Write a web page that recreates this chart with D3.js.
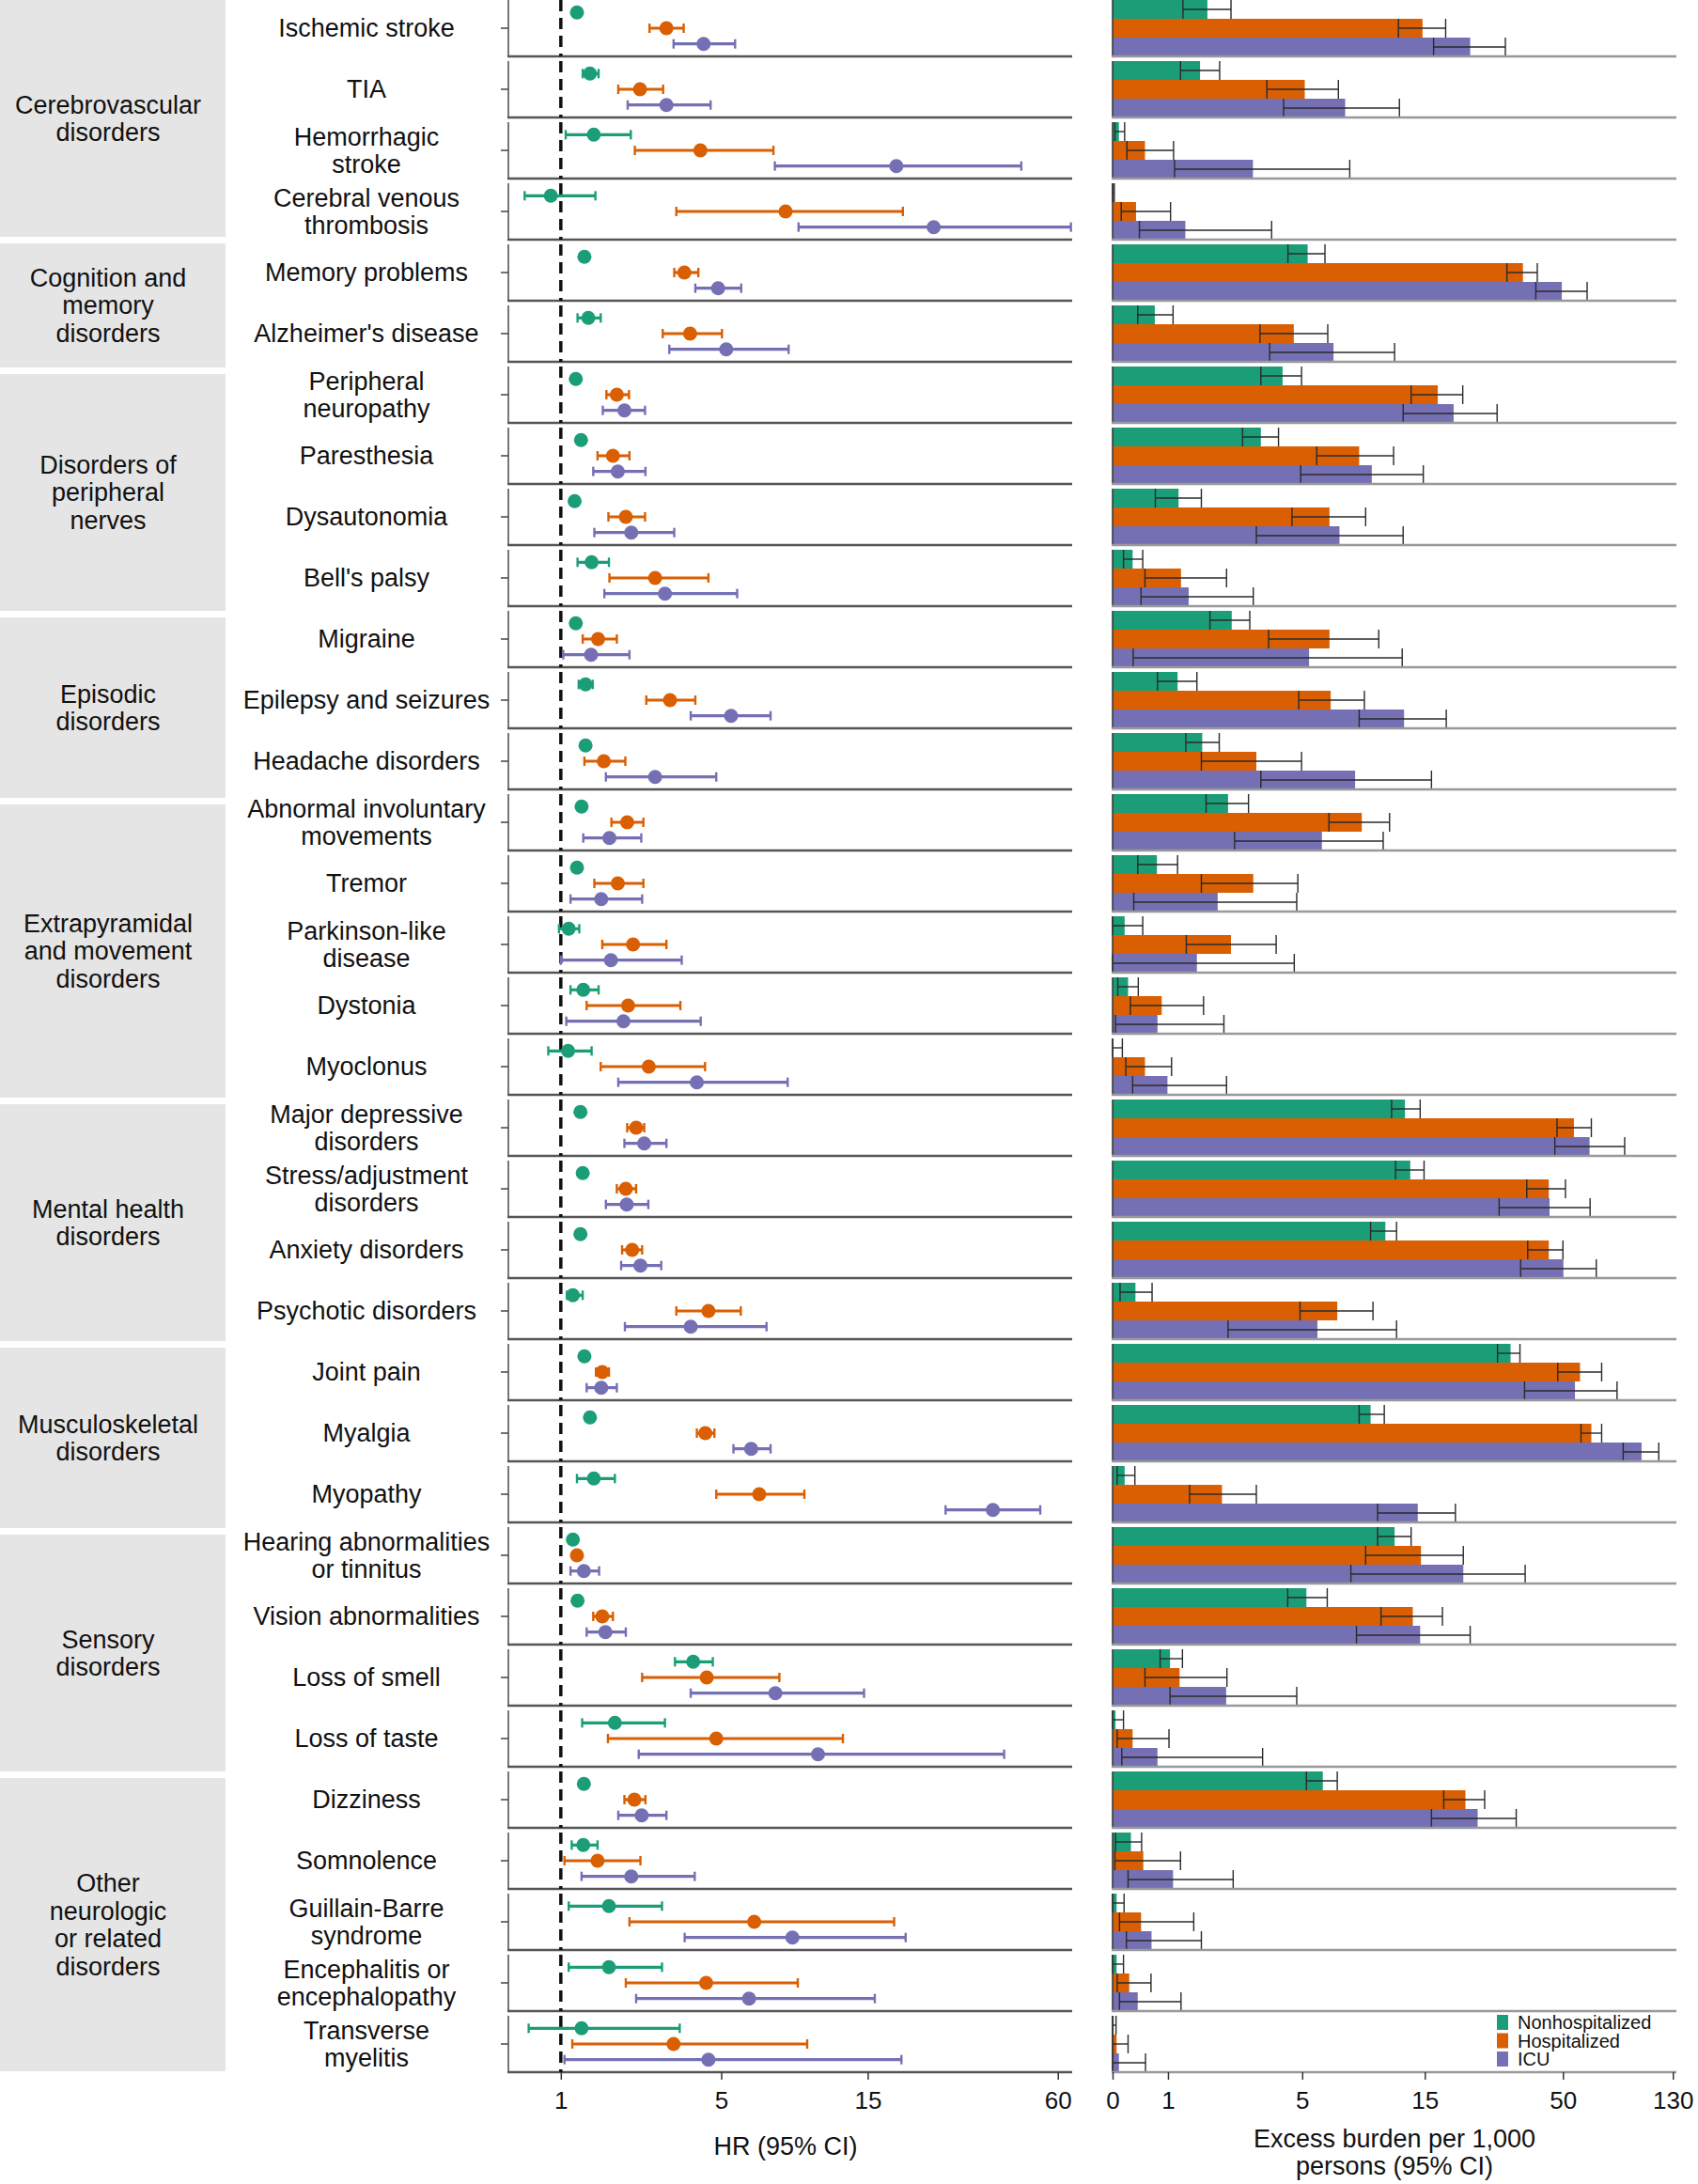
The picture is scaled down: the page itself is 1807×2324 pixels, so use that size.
<!DOCTYPE html>
<html>
<head>
<meta charset="utf-8">
<script src="https://cdn.jsdelivr.net/npm/d3@7"></script>
<style>
  body { margin: 0; background: #fff; }
  svg { display: block; font-family: "Liberation Sans", Arial, sans-serif; }
</style>
</head>
<body>
<svg id="chart" width="1807" height="2324"></svg>
<script>
// conditions, top to bottom ("|" = line break)
const conditions = [
  'Ischemic stroke', 'TIA', 'Hemorrhagic|stroke', 'Cerebral venous|thrombosis',
  'Memory problems', "Alzheimer's disease",
  'Peripheral|neuropathy', 'Paresthesia', 'Dysautonomia', "Bell's palsy",
  'Migraine', 'Epilepsy and seizures', 'Headache disorders',
  'Abnormal involuntary|movements', 'Tremor', 'Parkinson-like|disease', 'Dystonia', 'Myoclonus',
  'Major depressive|disorders', 'Stress/adjustment|disorders', 'Anxiety disorders', 'Psychotic disorders',
  'Joint pain', 'Myalgia', 'Myopathy',
  'Hearing abnormalities|or tinnitus', 'Vision abnormalities', 'Loss of smell', 'Loss of taste',
  'Dizziness', 'Somnolence', 'Guillain-Barre|syndrome', 'Encephalitis or|encephalopathy', 'Transverse|myelitis'
]

const groups = [
  'Cerebrovascular|disorders', 'Cognition and|memory|disorders', 'Disorders of|peripheral|nerves',
  'Episodic|disorders', 'Extrapyramidal|and movement|disorders', 'Mental health|disorders',
  'Musculoskeletal|disorders', 'Sensory|disorders', 'Other|neurologic|or related|disorders'
]
const groupSizes = [4, 2, 4, 3, 5, 4, 3, 4, 5]

const cohorts = ['Nonhospitalized', 'Hospitalized', 'ICU']
const colors = ['#1b9e77', '#d95f02', '#7570b3']

// hazard ratios [estimate, lower, upper]
const hrNonhosp = [
  [1.27, 1.22, 1.32], [1.50, 1.37, 1.66], [1.57, 1.08, 2.32], [0.84, 0.44, 1.60],
  [1.40, 1.34, 1.46], [1.47, 1.28, 1.70],
  [1.25, 1.20, 1.30], [1.34, 1.29, 1.39], [1.23, 1.17, 1.29], [1.53, 1.28, 1.86],
  [1.25, 1.20, 1.30], [1.42, 1.30, 1.55], [1.42, 1.36, 1.48],
  [1.35, 1.30, 1.40], [1.27, 1.20, 1.34], [1.13, 0.97, 1.31], [1.38, 1.16, 1.66], [1.12, 0.80, 1.53],
  [1.33, 1.29, 1.37], [1.37, 1.33, 1.41], [1.33, 1.29, 1.37], [1.20, 1.10, 1.37],
  [1.40, 1.36, 1.44], [1.50, 1.45, 1.55], [1.57, 1.27, 1.98],
  [1.20, 1.16, 1.24], [1.28, 1.24, 1.32], [4.00, 3.44, 4.68], [1.98, 1.36, 3.16],
  [1.39, 1.35, 1.43], [1.38, 1.18, 1.64], [1.86, 1.13, 3.08], [1.86, 1.13, 3.08], [1.35, 0.50, 3.58]
]
const hrHosp = [
  [3.20, 2.76, 3.70], [2.53, 2.05, 3.11], [4.24, 2.41, 7.46], [8.17, 3.48, 19.4],
  [3.72, 3.42, 4.17], [3.90, 3.10, 5.03],
  [2.02, 1.81, 2.28], [1.94, 1.64, 2.29], [2.21, 1.85, 2.65], [2.90, 1.87, 4.52],
  [1.65, 1.37, 2.02], [3.30, 2.68, 4.07], [1.76, 1.40, 2.20],
  [2.24, 1.91, 2.61], [2.04, 1.58, 2.61], [2.37, 1.73, 3.20], [2.26, 1.44, 3.60], [2.74, 1.70, 4.40],
  [2.44, 2.24, 2.63], [2.21, 2.02, 2.44], [2.35, 2.13, 2.58], [4.52, 3.48, 5.82],
  [1.73, 1.61, 1.86], [4.41, 4.12, 4.74], [6.70, 4.81, 9.40],
  [1.27, 1.21, 1.33], [1.73, 1.56, 1.94], [4.46, 2.58, 7.80], [4.81, 1.84, 12.5],
  [2.40, 2.18, 2.66], [1.64, 1.06, 2.54], [6.45, 2.29, 18.2], [4.44, 2.21, 8.95], [3.40, 1.19, 9.60]
]
const hrIcu = [
  [4.35, 3.40, 5.57], [3.20, 2.25, 4.60], [18.5, 7.54, 46.0], [24.3, 9.0, 66.0],
  [4.88, 4.07, 5.84], [5.20, 3.28, 8.36],
  [2.18, 1.74, 2.65], [2.04, 1.56, 2.66], [2.33, 1.58, 3.42], [3.16, 1.77, 5.66],
  [1.52, 1.04, 2.29], [5.40, 3.92, 7.30], [2.90, 1.80, 4.81],
  [1.87, 1.38, 2.56], [1.71, 1.16, 2.58], [1.90, 1.00, 3.64], [2.16, 1.09, 4.25], [4.12, 2.05, 8.30],
  [2.63, 2.18, 3.20], [2.23, 1.80, 2.73], [2.54, 2.11, 3.06], [3.92, 2.19, 7.08],
  [1.71, 1.44, 2.02], [6.30, 5.50, 7.30], [37.4, 26.5, 52.8],
  [1.39, 1.16, 1.67], [1.79, 1.44, 2.21], [7.57, 3.92, 14.6], [10.4, 2.50, 40.6],
  [2.57, 2.05, 3.20], [2.33, 1.35, 4.05], [8.60, 3.73, 19.8], [6.20, 2.44, 15.8], [4.52, 1.06, 19.2]
]

// excess burden per 1,000 persons [estimate, lower, upper]
const burdenNonhosp = [
  [1.84, 1.30, 2.44], [1.67, 1.25, 2.14], [0.11, 0.04, 0.21], [0.01, 0, 0.03],
  [5.26, 4.37, 6.17], [0.75, 0.44, 1.10],
  [4.15, 3.35, 4.97], [3.35, 2.77, 3.99], [1.21, 0.76, 1.70], [0.35, 0.19, 0.53],
  [2.46, 1.90, 2.99], [1.19, 0.80, 1.60], [1.72, 1.36, 2.13],
  [2.36, 1.81, 2.95], [0.79, 0.44, 1.19], [0.21, 0, 0.53], [0.27, 0.09, 0.45], [0.01, 0, 0.17],
  [12.6, 11.2, 14.4], [13.2, 11.6, 14.9], [10.6, 9.3, 11.7], [0.40, 0.13, 0.70],
  [31.7, 28.3, 34.4], [9.3, 8.4, 10.5], [0.21, 0.08, 0.39],
  [11.5, 9.9, 13.3], [5.2, 4.36, 6.3], [1.04, 0.85, 1.29], [0.05, 0, 0.19],
  [6.05, 5.2, 6.9], [0.32, 0.05, 0.51], [0.07, 0, 0.20], [0.07, 0, 0.19], [0.02, 0, 0.06]
]
const burdenHosp = [
  [14.7, 11.9, 18.0], [5.12, 3.56, 6.97], [0.57, 0.25, 1.11], [0.41, 0.15, 1.05],
  [35.3, 30.7, 40.0], [4.62, 3.32, 6.33],
  [16.8, 13.3, 20.9], [8.4, 5.72, 11.4], [6.43, 4.54, 8.9], [1.26, 0.57, 2.32],
  [6.43, 3.62, 10.0], [6.5, 4.84, 8.8], [3.2, 1.70, 4.97],
  [8.6, 6.4, 11.0], [3.1, 1.70, 4.8], [2.44, 1.37, 3.9], [0.88, 0.31, 1.75], [0.57, 0.23, 1.07],
  [55, 47.5, 64], [44.2, 36.5, 51.1], [44.2, 36.8, 50.0], [6.9, 4.9, 9.5],
  [58, 47.8, 70], [64, 58.5, 70], [2.2, 1.44, 3.2],
  [14.5, 8.9, 21.0], [13.5, 10.2, 17.5], [1.23, 0.57, 2.33], [0.35, 0.08, 1.02],
  [21.4, 17.7, 25.3], [0.54, 0.04, 1.25], [0.50, 0.12, 1.53], [0.29, 0.08, 0.68], [0.07, 0, 0.27]
]
const burdenIcu = [
  [22.3, 16.2, 30.3], [7.41, 4.19, 12.0], [3.09, 1.13, 7.72], [1.35, 0.47, 3.73],
  [49.5, 39.5, 61.7], [6.67, 3.66, 11.5],
  [19.3, 12.4, 28.2], [9.4, 4.93, 14.8], [7.04, 3.20, 12.4], [1.42, 0.50, 3.1],
  [5.33, 0.36, 12.3], [12.5, 8.4, 18.1], [8.1, 3.35, 15.9],
  [6.0, 2.54, 10.4], [2.09, 0.37, 4.75], [1.6, 0, 4.64], [0.80, 0.05, 2.25], [0.99, 0.35, 2.32],
  [63, 46.6, 85.5], [44.5, 28.7, 63.3], [50.2, 34.6, 66.8], [5.76, 2.36, 11.7],
  [55.5, 35.8, 80], [99, 84.4, 115], [14.1, 9.9, 19.6],
  [21, 7.8, 36], [14.4, 8.2, 22.3], [2.31, 1.04, 4.75], [0.80, 0.16, 3.41],
  [23.8, 15.9, 33.3], [1.10, 0.27, 2.5], [0.69, 0.24, 1.70], [0.44, 0.12, 1.26], [0.11, 0, 0.58]
]

const hrTicks = [1, 5, 15, 60]
const burdenTicks = [0, 1, 5, 15, 50, 130]

const hrSets = [hrNonhosp, hrHosp, hrIcu]
const burdenSets = [burdenNonhosp, burdenHosp, burdenIcu]

// pseudo-log axis (asinh(x / 2)), as used on both panels
const pseudoLog = (v) => Math.asinh(v / 2)

const hrScale = d3.scaleLinear().domain([0.2, 66.6].map(pseudoLog)).range([541, 1141]).clamp(true)
const xHR = (v) => hrScale(pseudoLog(v))
const burdenScale = d3.scaleLinear().domain([0, 134].map(pseudoLog)).range([1184, 1784]).clamp(true)
const xBurden = (v) => burdenScale(pseudoLog(v))

const y = d3.scaleBand().domain(d3.range(conditions.length)).range([0, 2205]).paddingInner(5 / 65)
const bw = y.bandwidth()
const yDot = d3.scalePoint().domain(d3.range(3)).range([bw * 0.222, bw * 0.778])
const yBar = d3.scaleBand().domain(d3.range(3)).range([0, bw])

const svg = d3.select('#chart')
const fontSize = 27
const lineH = 29.5

function multiline (sel, text, x, cy, size) {
  const lines = text.split('|')
  const t = sel.append('text')
    .attr('x', x)
    .attr('text-anchor', 'middle')
    .style('font-size', size + 'px')
    .attr('fill', '#111')
  lines.forEach((line, k) => {
    t.append('tspan')
      .attr('x', x)
      .attr('y', cy + 0.35 * size - (lines.length - 1) * lineH / 2 + k * lineH)
      .text(line)
  })
}

// group boxes on the left
let boxTop = 0
groups.forEach((g, gi) => {
  const h = 60 * groupSizes[gi] + 12
  svg.append('rect')
    .attr('x', 0).attr('y', boxTop)
    .attr('width', 240).attr('height', h)
    .attr('fill', '#e5e5e5')
  multiline(svg, g, 115, boxTop + h / 2, fontSize)
  boxTop += h + 7
})

// rows
conditions.forEach((name, i) => {
  const row = svg.append('g').attr('transform', `translate(0, ${y(i)})`)

  multiline(row, name, 390, bw / 2, fontSize)

  // forest panel frame
  row.append('line')
    .attr('x1', 541).attr('x2', 541).attr('y1', 0).attr('y2', bw)
    .attr('stroke', '#777').attr('stroke-width', 2)
  row.append('line')
    .attr('x1', 533).attr('x2', 541).attr('y1', bw / 2).attr('y2', bw / 2)
    .attr('stroke', '#444').attr('stroke-width', 1.5)
  row.append('line')
    .attr('x1', 540).attr('x2', 1141).attr('y1', bw).attr('y2', bw)
    .attr('stroke', '#555').attr('stroke-width', 2.5)
  row.append('line')
    .attr('x1', xHR(1)).attr('x2', xHR(1)).attr('y1', 0).attr('y2', bw)
    .attr('stroke', '#111').attr('stroke-width', 3.5)
    .attr('stroke-dasharray', '12,7')

  hrSets.forEach((set, c) => {
    const [est, lo, hi] = set[i]
    const cy = yDot(c)
    const g = row.append('g').attr('stroke', colors[c]).attr('fill', colors[c])
    g.append('line')
      .attr('x1', xHR(lo)).attr('x2', xHR(hi)).attr('y1', cy).attr('y2', cy)
      .attr('stroke-width', 3.2)
    ;[lo, hi].forEach((v) => {
      g.append('line')
        .attr('x1', xHR(v)).attr('x2', xHR(v)).attr('y1', cy - 5).attr('y2', cy + 5)
        .attr('stroke-width', 2.4)
    })
    g.append('circle')
      .attr('cx', xHR(est)).attr('cy', cy).attr('r', 7.5)
      .attr('stroke', 'none')
  })

  // burden panel
  burdenSets.forEach((set, c) => {
    const [est, lo, hi] = set[i]
    const by = yBar(c)
    const bh = yBar.bandwidth()
    row.append('rect')
      .attr('x', xBurden(0)).attr('y', by)
      .attr('width', Math.max(0, xBurden(est) - xBurden(0))).attr('height', bh)
      .attr('fill', colors[c])
    const eb = row.append('g').attr('stroke', '#2a2a2a').attr('stroke-width', 1.4)
    eb.append('line')
      .attr('x1', xBurden(lo)).attr('x2', xBurden(hi)).attr('y1', by + bh / 2).attr('y2', by + bh / 2)
    ;[lo, hi].forEach((v) => {
      eb.append('line')
        .attr('x1', xBurden(v)).attr('x2', xBurden(v)).attr('y1', by).attr('y2', by + bh)
    })
  })
  row.append('line')
    .attr('x1', 1184).attr('x2', 1184).attr('y1', 0).attr('y2', bw)
    .attr('stroke', '#333').attr('stroke-width', 1.5)
  row.append('line')
    .attr('x1', 1183).attr('x2', 1784).attr('y1', bw).attr('y2', bw)
    .attr('stroke', '#999').attr('stroke-width', 2.5)
})

// bottom axes
const axisY = y(conditions.length - 1) + bw

const hrAxis = svg.append('g')
  .attr('transform', `translate(0, ${axisY})`)
  .call(d3.axisBottom(hrScale)
    .tickValues(hrTicks.map(pseudoLog))
    .tickFormat((d, k) => hrTicks[k])
    .tickSize(8).tickPadding(13))
const burdenAxis = svg.append('g')
  .attr('transform', `translate(0, ${axisY})`)
  .call(d3.axisBottom(burdenScale)
    .tickValues(burdenTicks.map(pseudoLog))
    .tickFormat((d, k) => burdenTicks[k])
    .tickSize(8).tickPadding(13))

;[hrAxis, burdenAxis].forEach((ax) => {
  ax.select('.domain').remove()
  ax.selectAll('.tick line').attr('stroke', '#333').attr('stroke-width', 1.5)
  ax.selectAll('.tick text')
    .attr('fill', '#111')
    .style('font-size', '26px')
    .style('font-family', '"Liberation Sans", Arial, sans-serif')
})

svg.append('text')
  .attr('x', 836).attr('y', axisY + 88)
  .attr('text-anchor', 'middle')
  .style('font-size', fontSize + 'px')
  .attr('fill', '#111')
  .text('HR (95% CI)')

const bt = svg.append('text')
  .attr('text-anchor', 'middle')
  .style('font-size', fontSize + 'px')
  .attr('fill', '#111')
bt.append('tspan').attr('x', 1484).attr('y', axisY + 80).text('Excess burden per 1,000')
bt.append('tspan').attr('x', 1484).attr('y', axisY + 109).text('persons (95% CI)')

// legend in the last burden panel
const legend = svg.append('g').attr('transform', `translate(1593, ${y(conditions.length - 1)})`)
cohorts.forEach((name, c) => {
  const ly = 7 + c * 19.5
  legend.append('rect')
    .attr('x', 0).attr('y', ly - 8)
    .attr('width', 12).attr('height', 16)
    .attr('fill', colors[c])
  legend.append('text')
    .attr('x', 22).attr('y', ly + 7)
    .style('font-size', '20px')
    .attr('fill', '#111')
    .text(name)
})
</script>
</body>
</html>
